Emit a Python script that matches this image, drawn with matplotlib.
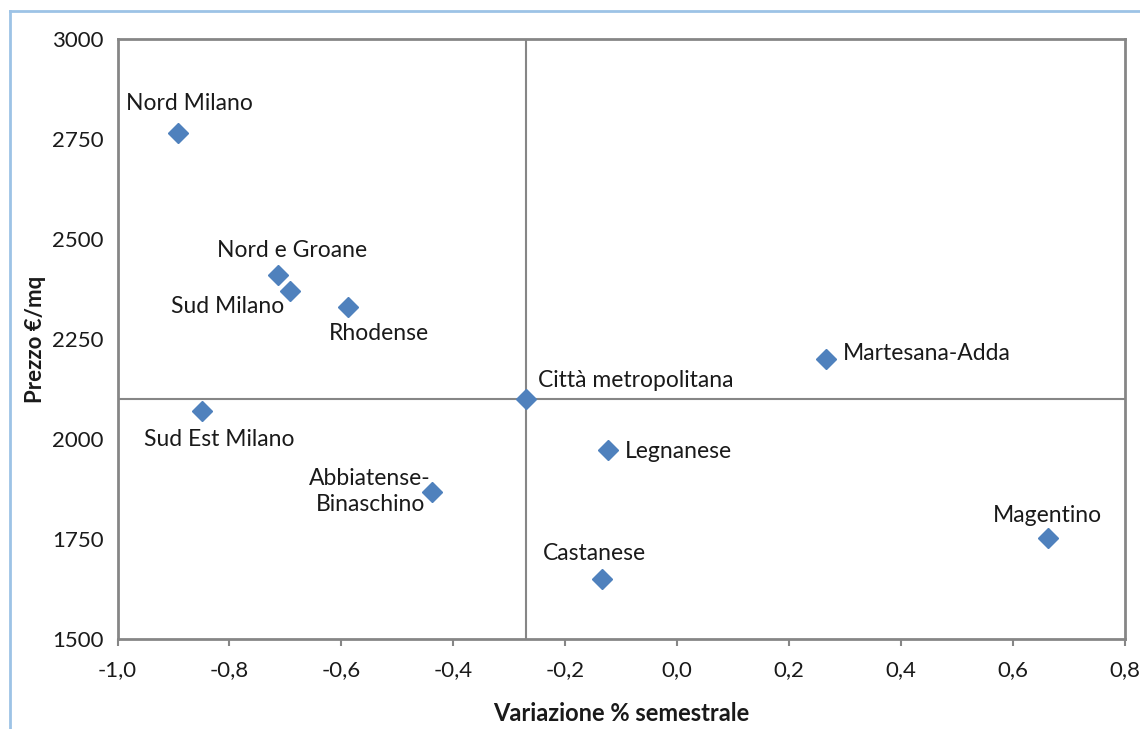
import matplotlib
matplotlib.use("Agg")
import matplotlib.pyplot as plt
from matplotlib.lines import Line2D
from matplotlib.ticker import FuncFormatter

plt.rcParams['font.family'] = ['Lato', 'DejaVu Sans']

zones = ["Nord Milano", "Nord e Groane", "Sud Milano", "Rhodense", "Sud Est Milano",
         "Città metropolitana", "Martesana-Adda", "Legnanese", "Abbiatense-\nBinaschino",
         "Castanese", "Magentino"]
variazione = [-0.892, -0.713, -0.692, -0.588, -0.849, -0.27, 0.265, -0.124, -0.438, -0.135, 0.662]
prezzo = [2765, 2410, 2370, 2330, 2070, 2100, 2200, 1972, 1867, 1650, 1752]
ref_x = -0.27
ref_y = 2100
x_ticks = [-1.0, -0.8, -0.6, -0.4, -0.2, 0.0, 0.2, 0.4, 0.6, 0.8]
y_ticks = [1500, 1750, 2000, 2250, 2500, 2750, 3000]

# label placement: (dx px, dy px, ha)
label_pos = {
    "Nord Milano": (11, 29, 'center'),
    "Nord e Groane": (14, 25, 'center'),
    "Sud Milano": (-62, -15, 'center'),
    "Rhodense": (31, -26, 'center'),
    "Sud Est Milano": (17, -28, 'center'),
    "Città metropolitana": (12, 19, 'left'),
    "Martesana-Adda": (17, 6, 'left'),
    "Legnanese": (17, -1, 'left'),
    "Abbiatense-\nBinaschino": (-62, 1, 'center'),
    "Castanese": (-7, 26, 'center'),
    "Magentino": (0, 23, 'center'),
}

W, H = 1140, 729
fig = plt.figure(figsize=(W / 100, H / 100), dpi=100)
fig.patch.set_facecolor('white')
L, R, T, B = 117.5, 1125, 39, 639
ax = fig.add_axes([L / W, 1 - B / H, (R - L) / W, (B - T) / H])

ax.axvline(ref_x, color='#868686', lw=1.5, zorder=1)
ax.axhline(ref_y, color='#868686', lw=1.5, zorder=1)
ax.plot(variazione, prezzo, linestyle='none', marker='D', ms=10.5,
        color='#4F81BD', mec='#4F81BD', zorder=3)

for name, xv, yv in zip(zones, variazione, prezzo):
    dx, dy, ha = label_pos[name]
    ax.annotate(name, (xv, yv), xytext=(dx * 0.72, dy * 0.72), textcoords='offset points',
                ha=ha, va='center', multialignment='center', fontsize=16.5,
                color='#1a1a1a', linespacing=1.3, zorder=4)

ax.set_xlim(-1.0, 0.8)
ax.set_ylim(1500, 3000)
ax.set_xticks(x_ticks)
ax.set_yticks(y_ticks)
ax.xaxis.set_major_formatter(FuncFormatter(lambda v, p: f"{v:.1f}".replace('.', ',').replace('-0,0', '0,0')))
ax.tick_params(axis='x', length=5, width=1.5, color='#868686', labelsize=16, pad=10, labelcolor='#1a1a1a')
ax.tick_params(axis='y', length=0, labelsize=16, pad=10, labelcolor='#1a1a1a')
for s in ax.spines.values():
    s.set_color('#868686')
    s.set_linewidth(2)

ax.set_xlabel("Variazione % semestrale", fontsize=17, fontweight='bold', labelpad=16, color='#1a1a1a')
ax.set_ylabel("Prezzo €/mq", fontsize=16, fontweight='bold', labelpad=4, color='#1a1a1a')

# outer chart border (cropped on right and bottom)
fig.add_artist(Line2D([10 / W, 10 / W], [1 - 11 / H, 0], transform=fig.transFigure,
                      color='#9DC3E6', lw=2))
fig.add_artist(Line2D([10 / W, 1], [1 - 11 / H, 1 - 11 / H], transform=fig.transFigure,
                      color='#9DC3E6', lw=2))

fig.savefig("out.png", dpi=100)
